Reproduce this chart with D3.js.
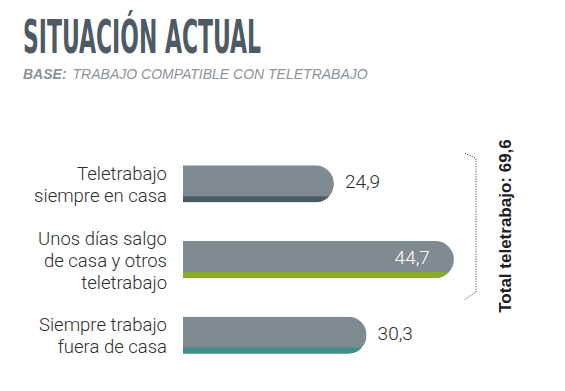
<!DOCTYPE html>
<html><head><meta charset="utf-8">
<script src="https://cdn.jsdelivr.net/npm/d3@7"></script>
<style>body{margin:0;background:#fff}svg{display:block}</style>
</head><body>
<svg id="c" width="565" height="391"></svg>
<script>
const categories = [["Teletrabajo","siempre en casa"],["Unos días salgo","de casa y otros","teletrabajo"],["Siempre trabajo","fuera de casa"]];
const values = [24.9, 44.7, 30.3];
const valueLabels = ["24,9","44,7","30,3"];
const stripeColors = ["#4b5b64","#8aab2c","#3e8f8b"];
const totalLabel = "Total teletrabajo: 69,6";
const title = "SITUACIÓN ACTUAL";
const subtitleBold = "BASE:";
const subtitleRest = "TRABAJO COMPATIBLE CON TELETRABAJO";

const svg = d3.select("#c");
const x = d3.scaleLinear().domain([0,50]).range([183, 486]);
const y = d3.scaleBand().domain(d3.range(values.length)).range([146,373]).paddingInner(0.51).paddingOuter(0.255);
const bh = y.bandwidth();
const stripeH = 6;

// title
svg.append("text").attr("x",23).attr("y",53).text(title)
  .attr("font-family","'Liberation Sans Narrow','DejaVu Sans Condensed',sans-serif").attr("font-weight","bold")
  .attr("font-size",46).attr("fill","#4e5a64")
  .attr("textLength",238).attr("lengthAdjust","spacingAndGlyphs");

const sub = svg.append("text").attr("x",23).attr("y",79)
  .attr("font-family","'Liberation Sans',Arial,sans-serif").attr("font-size",14).attr("font-style","italic").attr("fill","#8c9399");
sub.append("tspan").attr("font-weight","bold").text(subtitleBold);
sub.append("tspan").attr("dx",6).attr("font-weight","normal").text(subtitleRest);

function barPath(x0,x1,y0,h){
  const rr=h/2;
  return `M${x0},${y0}H${x1-rr}A${rr},${rr} 0 0 1 ${x1-rr},${y0+h}H${x0}Z`;
}
const defs = svg.append("defs");
values.forEach((v,i)=>{
  const y0=y(i), x1=x(v);
  defs.append("clipPath").attr("id","cl"+i).append("path").attr("d",barPath(x(0),x1,y0,bh));
  const g=svg.append("g").attr("clip-path",`url(#cl${i})`);
  g.append("rect").attr("x",x(0)).attr("y",y0).attr("width",x1-x(0)).attr("height",bh).attr("fill","#7f8a91");
  g.append("rect").attr("x",x(0)).attr("y",y0+bh-stripeH).attr("width",x1-x(0)).attr("height",stripeH).attr("fill",stripeColors[i]);
  const inside = i===1;
  svg.append("text").attr("x", inside ? x1-24 : x1+11).attr("y", y0+bh/2-2)
    .attr("text-anchor", inside?"end":"start").attr("dominant-baseline","central")
    .attr("font-family","Roboto,'Open Sans',sans-serif").attr("font-weight",300).attr("font-size",19)
    .attr("fill", inside?"#ffffff":"#2b2b2b").text(valueLabels[i]);
  const lines=categories[i];
  lines.forEach((l,j)=>{
    svg.append("text").attr("text-anchor","end")
      .attr("font-family","Roboto,'Open Sans',sans-serif").attr("font-weight",300).attr("font-size",18.5).attr("fill","#2e2e2e")
      .attr("x",167).attr("y", y0+bh/2 + (j-(lines.length-1)/2)*22 + 1).attr("dominant-baseline","central").text(l);
  });
});

// bracket
const bx=476, by0=y(0)-7, by1=y(1)+bh+14;
svg.append("path").attr("d",`M465,${by0-5}L${bx},${by0}V${by1}L${bx-12},${by1+8}`)
  .attr("fill","none").attr("stroke","#333").attr("stroke-width",1).attr("stroke-dasharray","1,1.5");
svg.append("text").attr("transform",`translate(511,226) rotate(-90)`)
  .attr("text-anchor","middle").attr("font-family","'Liberation Sans',Arial,sans-serif").attr("font-weight","bold")
  .attr("font-size",17).attr("fill","#1e1e1e").text(totalLabel);
</script>
</body></html>
